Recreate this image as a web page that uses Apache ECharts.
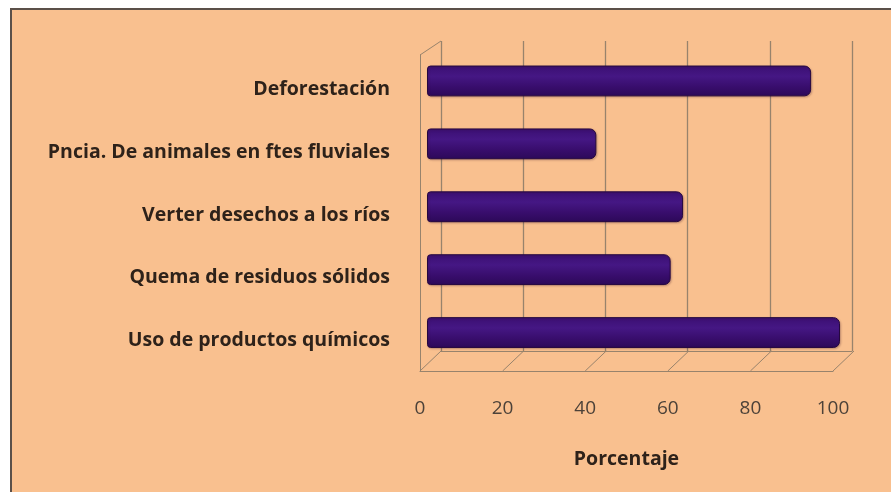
<!DOCTYPE html>
<html>
<head>
<meta charset="utf-8">
<title>Porcentaje</title>
<script src="https://cdn.jsdelivr.net/npm/echarts@6/dist/echarts.min.js"></script>
<style>
  html, body { margin: 0; padding: 0; background: #ffffff; }
  #chart { width: 891px; height: 492px; }
</style>
</head>
<body>
<div id="chart"></div>
<script>
// Causes and their share (%)
const categories = [
  'Deforestación',
  'Pncia. De animales en ftes fluviales',
  'Verter desechos a los ríos',
  'Quema de residuos sólidos',
  'Uso de productos químicos'
];
const porcentajes = [93, 41, 62, 59, 100];
const xTicks = [0, 20, 40, 60, 80, 100];

const peach = '#F9C08F';
const wallLine = '#98836c';
const textDark = '#2e221a';
const textGrey = '#4d4239';
const fontFam = '"Open Sans", Lato, sans-serif';

// depth offsets of the pseudo-3D box (floor and wall top)
const floorDepth = [21, -20];
const topDepth = [21, -14];

const chart = echarts.init(document.getElementById('chart'), null, { renderer: 'canvas' });

chart.setOption({
  backgroundColor: '#ffffff',
  animation: false,
  graphic: [{
    type: 'rect',
    shape: { x: 11, y: 9, width: 900, height: 500 },
    style: { fill: peach, stroke: '#5b5049', lineWidth: 2 },
    z: -10
  }],
  grid: [
    // front plane: floor edge + tick labels
    { left: 420, top: 55, width: 413, height: 316 },
    // back wall
    { left: 441, top: 41, width: 411, height: 310 },
    // bar plane
    { left: 427, top: 49.5, width: 413, height: 314.5 },
    // category label band (sits slightly lower, in front of the bars)
    { left: 427, top: 58, width: 413, height: 314 }
  ],
  xAxis: [
    {
      gridIndex: 0, type: 'value', min: 0, max: 100, interval: 20,
      axisLine: { show: true, lineStyle: { color: wallLine, width: 1 } },
      axisTick: { show: false },
      splitLine: { show: false },
      axisLabel: {
        margin: 28, color: textGrey, fontFamily: fontFam, fontSize: 19,
        formatter: v => String(xTicks[xTicks.indexOf(v)])
      },
      name: 'Porcentaje', nameLocation: 'middle', nameGap: 78,
      nameTextStyle: { color: textDark, fontFamily: fontFam, fontSize: 19.5, fontWeight: 'bold' }
    },
    {
      gridIndex: 1, type: 'value', min: 0, max: 100, interval: 20,
      axisLine: { show: true, lineStyle: { color: wallLine, width: 1 } },
      axisTick: { show: false }, axisLabel: { show: false },
      splitLine: { show: true, lineStyle: { color: wallLine, width: 1.3 } }
    },
    { gridIndex: 2, type: 'value', min: 0, max: 100, show: false },
    { gridIndex: 3, type: 'value', min: 0, max: 100, show: false }
  ],
  yAxis: [
    {
      gridIndex: 0, type: 'value', min: 0, max: 1,
      axisLine: { show: true, lineStyle: { color: wallLine, width: 1 } },
      axisTick: { show: false }, axisLabel: { show: false }, splitLine: { show: false }
    },
    {
      gridIndex: 1, type: 'value', min: 0, max: 1,
      axisLine: { show: false }, axisTick: { show: false },
      axisLabel: { show: false }, splitLine: { show: false }
    },
    {
      gridIndex: 2, type: 'category', data: categories, inverse: true,
      axisLine: { show: false }, axisTick: { show: false },
      axisLabel: { show: false }, splitLine: { show: false }
    },
    {
      gridIndex: 3, type: 'category', data: categories, inverse: true,
      axisLine: { show: false }, axisTick: { show: false }, splitLine: { show: false },
      axisLabel: {
        margin: 37, color: textDark, fontFamily: fontFam, fontSize: 19.5, fontWeight: 'bold'
      }
    }
  ],
  series: [
    {
      // floor diagonals and the top edge of the side wall
      type: 'custom',
      xAxisIndex: 0, yAxisIndex: 0,
      data: xTicks.map(v => [v, 0]).concat([[0, 1]]),
      renderItem: (params, api) => {
        const p = api.coord([api.value(0), api.value(1)]);
        const d = api.value(1) === 1 ? topDepth : floorDepth;
        return {
          type: 'line',
          shape: { x1: p[0], y1: p[1], x2: p[0] + d[0], y2: p[1] + d[1] },
          style: { stroke: wallLine, lineWidth: 1 }
        };
      },
      silent: true, z: 1
    },
    {
      type: 'bar',
      xAxisIndex: 2, yAxisIndex: 2,
      data: porcentajes,
      barWidth: '49%',
      itemStyle: {
        color: new echarts.graphic.LinearGradient(0, 0, 0, 1, [
          { offset: 0, color: '#3b0f72' },
          { offset: 0.35, color: '#451784' },
          { offset: 0.7, color: '#380d6c' },
          { offset: 1, color: '#2c0958' }
        ]),
        borderColor: '#26083f',
        borderWidth: 1,
        borderRadius: [3, 6, 6, 3],
        shadowColor: 'rgba(60,20,40,0.25)',
        shadowBlur: 2,
        shadowOffsetX: 1,
        shadowOffsetY: 1
      },
      z: 5
    }
  ]
});
</script>
</body>
</html>
